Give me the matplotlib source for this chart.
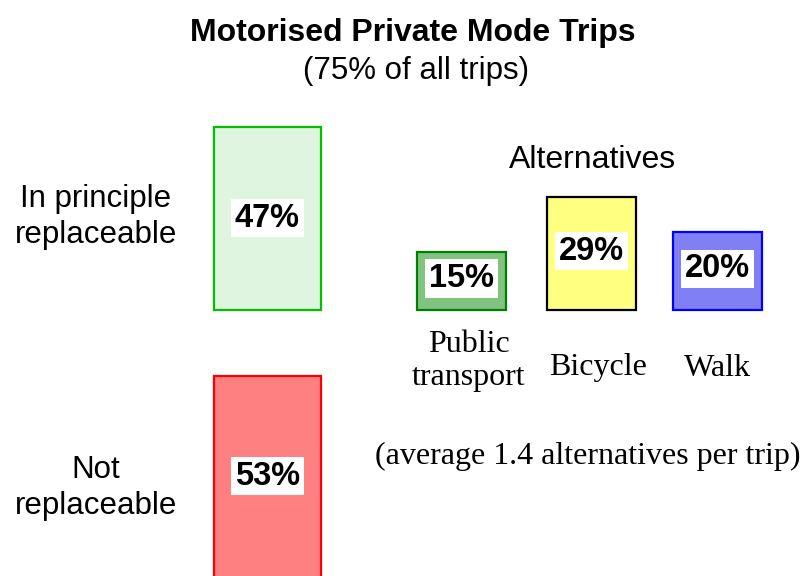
import matplotlib.pyplot as plt
import matplotlib as mpl

mpl.rcParams["font.family"] = ["Liberation Sans", "DejaVu Sans"]

# data
split_labels = ['In principle\nreplaceable', 'Not\nreplaceable']
split_values = [47, 53]
alt_labels = ['Public\ntransport', 'Bicycle', 'Walk']
alt_values = [15, 29, 20]

W, H = 803, 576
PX = 3.9          # pixels per percent
BASE = 310        # pixel row of the zero line
GAP = 66          # pixel gap between the two left boxes

fig = plt.figure(figsize=(W / 100, H / 100), dpi=100)
ax = fig.add_axes([0, 0, 1, 1])
ax.set_xlim(0, W)
ax.set_ylim((BASE - H) / PX, BASE / PX)
ax.axis('off')

# left stacked boxes
gap = GAP / PX
ax.bar(267.5, split_values[0], width=107, bottom=0,
       color='#e0f5e0', edgecolor='#00c000', linewidth=1.6)
ax.bar(267.5, split_values[1], width=107, bottom=-gap - split_values[1],
       color='#ff8080', edgecolor='#ff0000', linewidth=1.6)

# alternatives
alt_x = [461.5, 591.5, 717.5]
alt_fc = ['#80c480', '#ffff80', '#8080f4']
alt_ec = ['#008000', '#000000', '#0000ff']
ax.bar(alt_x, alt_values, width=89, color=alt_fc, edgecolor=alt_ec, linewidth=1.6)

box = dict(facecolor='white', edgecolor='none', pad=2.5)
ax.text(267.5, split_values[0] / 2, '%d%%' % split_values[0], ha='center', va='center',
        fontsize=23.5, fontweight='bold', bbox=box)
ax.text(267.5, -gap - split_values[1] / 2 + 0.8, '%d%%' % split_values[1], ha='center', va='center',
        fontsize=23.5, fontweight='bold', bbox=box)
for x, v in zip(alt_x, alt_values):
    ax.text(x, v / 2 + 0.6, '%d%%' % v, ha='center', va='center',
            fontsize=23.5, fontweight='bold', bbox=box)


def ftext(x, y, s, **kw):
    fig.text(x / W, 1 - (y + 3) / H, s, ha='center', va='center', **kw)


ftext(413, 30, 'Motorised Private Mode Trips', fontsize=23, fontweight='bold')
ftext(416, 68, '(75% of all trips)', fontsize=22.5)
ftext(96, 214, split_labels[0], fontsize=22.5, linespacing=1.3)
ftext(96, 485, split_labels[1], fontsize=22.5, linespacing=1.3)
ftext(593, 157, 'Alternatives', fontsize=23)

serif = ['Liberation Serif', 'DejaVu Serif']
ftext(469, 358, alt_labels[0], fontsize=23, family=serif, linespacing=1.15)
ftext(598, 364, alt_labels[1], fontsize=23, family=serif)
ftext(717, 366, alt_labels[2], fontsize=23, family=serif)
ftext(588, 453, '(average 1.4 alternatives per trip)', fontsize=23, family=serif)

fig.savefig('out.png', dpi=100)
